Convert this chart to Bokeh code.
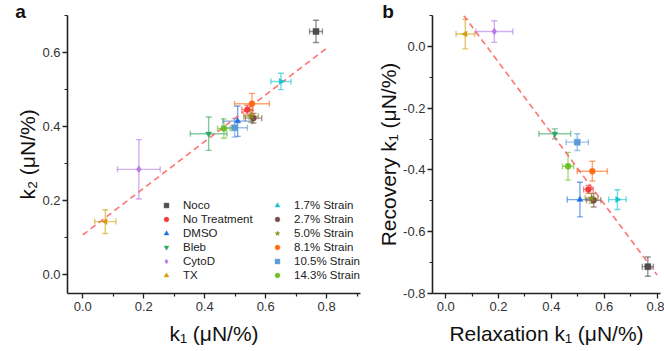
import math
from bokeh.plotting import figure
from bokeh.models import Whisker, TeeHead, ColumnDataSource, FixedTicker, Label, PrintfTickFormatter
from bokeh.layouts import row
from bokeh.embed import file_html
from bokeh.resources import INLINE

categories = ["Noco", "No Treatment", "DMSO", "Bleb", "CytoD", "TX",
              "1.7% Strain", "2.7% Strain", "5.0% Strain", "8.1% Strain",
              "10.5% Strain", "14.3% Strain"]
relax_k1 = [0.765, 0.540, 0.508, 0.413, 0.184, 0.074, 0.650, 0.560, 0.552, 0.555, 0.498, 0.463]
relax_k1_err = [0.021, 0.018, 0.048, 0.060, 0.070, 0.035, 0.033, 0.027, 0.024, 0.057, 0.042, 0.021]
k2 = [0.657, 0.446, 0.415, 0.381, 0.285, 0.144, 0.522, 0.423, 0.428, 0.462, 0.397, 0.395]
k2_err = [0.030, 0.012, 0.041, 0.045, 0.080, 0.032, 0.022, 0.013, 0.016, 0.028, 0.025, 0.026]
recovery_k1 = [-0.713, -0.463, -0.496, -0.283, 0.048, 0.040, -0.496, -0.498, -0.492, -0.404, -0.310, -0.388]
recovery_k1_err = [0.031, 0.013, 0.056, 0.016, 0.035, 0.048, 0.032, 0.022, 0.016, 0.032, 0.027, 0.045]

fit_a_x = [0.0, 0.8]
fit_a_y = [0.108, 0.612]
fit_b_x = [0.068, 0.8]
fit_b_y = [0.100, -0.740]

x_ticks = [0.0, 0.2, 0.4, 0.6, 0.8]
x_minor = [-0.1, 0.1, 0.3, 0.5, 0.7, 0.9]
ya_ticks = [0.0, 0.2, 0.4, 0.6]
ya_minor = [0.1, 0.3, 0.5, 0.7]
yb_ticks = [-0.8, -0.6, -0.4, -0.2, 0.0]
yb_minor = [-0.7, -0.5, -0.3, -0.1, 0.1]

colors = ["#4d4d4d", "#f03c3c", "#1f6fe0", "#34a864", "#b87ae6", "#d4a012",
          "#17c3d1", "#7a4b4b", "#8a8a1c", "#ff6a13", "#5b9bd5", "#6cbf24"]
markers = ["square", "circle", "triangle", "inverted_triangle", "diamond", "triangle",
           "triangle", "circle", "star", "circle", "square", "circle"]
angles = [0, 0, 0, 0, 0, math.pi / 2, -math.pi / 2, 0, 0, 0, 0, 0]
sizes = [6, 6, 6, 6, 7, 6, 6, 6, 8, 6, 6, 6]

FONT = "Liberation Sans"


def style(p, xt, xm, yt, ym):
    p.xgrid.visible = False
    p.ygrid.visible = False
    p.outline_line_color = None
    p.xaxis.ticker = FixedTicker(ticks=xt, minor_ticks=xm)
    p.yaxis.ticker = FixedTicker(ticks=yt, minor_ticks=ym)
    p.xaxis.formatter = PrintfTickFormatter(format="%.1f")
    p.yaxis.formatter = PrintfTickFormatter(format="%.1f")
    for ax in (p.xaxis[0], p.yaxis[0]):
        ax.axis_line_width = 1.6
        ax.axis_line_color = "#222222"
        ax.major_tick_line_color = "#222222"
        ax.minor_tick_line_color = "#222222"
        ax.major_tick_line_width = 1.3
        ax.minor_tick_line_width = 1.2
        ax.major_tick_out = 5
        ax.major_tick_in = 0
        ax.minor_tick_out = 3
        ax.minor_tick_in = 0
        ax.major_label_text_font = FONT
        ax.major_label_text_font_size = "13px"
        ax.major_label_text_color = "#333333"
        ax.axis_label_text_font = FONT
        ax.axis_label_text_font_size = "21px"
        ax.axis_label_text_font_style = "normal"
        ax.axis_label_text_color = "#111111"
    p.xaxis.major_label_standoff = 3
    p.yaxis.major_label_standoff = 2
    p.xaxis.axis_label_standoff = 8
    p.yaxis.axis_label_standoff = 0


def add_points(p, xs, xe, ys, ye, legend):
    for i, cat in enumerate(categories):
        c = colors[i]
        src = ColumnDataSource(dict(
            x=[xs[i]], y=[ys[i]],
            xl=[xs[i] - xe[i]], xu=[xs[i] + xe[i]],
            yl=[ys[i] - ye[i]], yu=[ys[i] + ye[i]],
        ))
        for dim, base, lo, up in (("height", "x", "yl", "yu"), ("width", "y", "xl", "xu")):
            w = Whisker(source=src, base=base, lower=lo, upper=up, dimension=dim,
                        line_color=c, line_alpha=0.6, line_width=1.4,
                        upper_head=TeeHead(size=6, line_color=c, line_alpha=0.6, line_width=1.4),
                        lower_head=TeeHead(size=6, line_color=c, line_alpha=0.6, line_width=1.4))
            p.add_layout(w)
        kw = dict(legend_label=cat) if legend else {}
        p.scatter("x", "y", source=src, marker=markers[i], size=sizes[i], angle=angles[i],
                  fill_color=c, line_color=c, line_width=0.5, **kw)


# Panel a
pa = figure(width=362, height=351, x_range=(-0.05, 0.911), y_range=(-0.05, 0.7),
            output_backend="svg", toolbar_location=None,
            min_border_left=67, min_border_right=2, min_border_top=15, min_border_bottom=58)
pa.line(fit_a_x, fit_a_y, line_color="#ff5a5a", line_dash="6 4", line_width=1.6, line_alpha=0.85)
add_points(pa, relax_k1, relax_k1_err, k2, k2_err, True)
style(pa, x_ticks, x_minor, ya_ticks, ya_minor)
pa.xaxis.axis_label = "k\u2081 (\u03bcN/%)"
pa.yaxis.axis_label = "k\u2082 (\u03bcN/%)"
pa.add_layout(Label(x=20, y=21, x_units="canvas", y_units="canvas", text="a",
                    text_font=FONT, text_font_size="19px",
                    text_font_style="bold", text_align="center", text_baseline="bottom",
                    text_color="#111111"), "left")
lg = pa.legend[0]
lg.orientation = "vertical"
lg.nrows = 6
lg.ncols = 2
lg.location = (93, 11)
lg.padding = 0
lg.margin = 0
lg.spacing = 0
lg.border_line_color = None
lg.background_fill_alpha = 0
lg.glyph_width = 12
lg.glyph_height = 14
lg.label_height = 14
lg.label_width = 88
lg.label_standoff = 11
lg.label_text_font = FONT
lg.label_text_font_size = "11.5px"
lg.label_text_color = "#222222"
lg.label_text_baseline = "middle"

# Panel b
pb = figure(width=302, height=351, x_range=(-0.05, 0.813), y_range=(-0.8, 0.1),
            output_backend="svg", toolbar_location=None,
            min_border_left=70, min_border_right=4, min_border_top=15, min_border_bottom=57)
pb.line(fit_b_x, fit_b_y, line_color="#ff5a5a", line_dash="6 4", line_width=1.6, line_alpha=0.85)
add_points(pb, relax_k1, relax_k1_err, recovery_k1, recovery_k1_err, False)
style(pb, x_ticks, x_minor, yb_ticks, yb_minor)
pb.xaxis.axis_label = "Relaxation k\u2081 (\u03bcN/%)"
pb.yaxis.axis_label = "Recovery k\u2081 (\u03bcN/%)"
pb.add_layout(Label(x=25.5, y=21, x_units="canvas", y_units="canvas", text="b",
                    text_font=FONT, text_font_size="19px",
                    text_font_style="bold", text_align="center", text_baseline="bottom",
                    text_color="#111111"), "left")

layout = row(pa, pb)
open("out.html", "w").write(file_html(layout, INLINE))
